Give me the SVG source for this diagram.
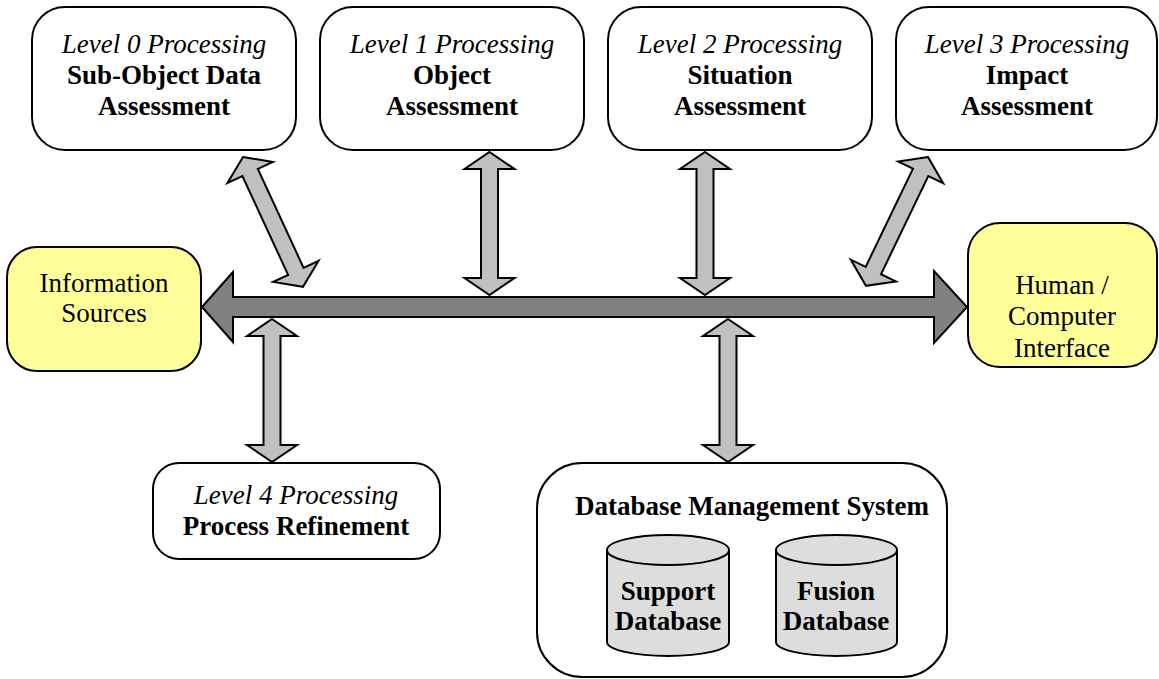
<svg xmlns="http://www.w3.org/2000/svg" width="1159" height="679" viewBox="0 0 1159 679">
<style>
.box{fill:#ffffff;stroke:#000;stroke-width:2}
.yel{fill:#ffff99;stroke:#000;stroke-width:2}
.arr{fill:#c0c0c0;stroke:#000;stroke-width:2;stroke-linejoin:miter}
.bus{fill:#808080;stroke:#000;stroke-width:2}
.cyl{fill:#dddddd;stroke:#000;stroke-width:2}
text{font-family:"Liberation Serif","Times New Roman",serif;font-size:27px;text-anchor:middle;fill:#000}
.it{font-style:italic}
.b{font-weight:bold}
</style>
<defs>
<polygon id="dv" points="0,0 25,17 8.5,17 8.5,126 25,126 0,143 -25,126 -8.5,126 -8.5,17 -25,17"/>
</defs>
<g id="connectors">
<polygon class="bus" points="202,307 233,272 233,297 934,297 934,271 967,307 934,343 934,317 233,317 233,342"/>
<use href="#dv" class="arr" transform="translate(489.5,152)"/>
<use href="#dv" class="arr" transform="translate(705,152)"/>
<use href="#dv" class="arr" transform="translate(272,319)"/>
<use href="#dv" class="arr" transform="translate(728,319)"/>
<use href="#dv" class="arr" transform="translate(243,157) rotate(-24.8)"/>
<use href="#dv" class="arr" transform="translate(928,157) rotate(25.7)"/>
</g>
<g id="level0">
<rect class="box" x="32" y="7" width="264" height="143" rx="33"/>
<text class="it" x="164" y="53">Level 0 Processing</text>
<text class="b" x="164" y="84">Sub-Object Data</text>
<text class="b" x="164" y="115">Assessment</text>
</g>
<g id="level1">
<rect class="box" x="320" y="7" width="264" height="143" rx="33"/>
<text class="it" x="452" y="53">Level 1 Processing</text>
<text class="b" x="452" y="84">Object</text>
<text class="b" x="452" y="115">Assessment</text>
</g>
<g id="level2">
<rect class="box" x="608" y="7" width="264" height="143" rx="33"/>
<text class="it" x="740" y="53">Level 2 Processing</text>
<text class="b" x="740" y="84">Situation</text>
<text class="b" x="740" y="115">Assessment</text>
</g>
<g id="level3">
<rect class="box" x="896" y="7" width="261" height="143" rx="33"/>
<text class="it" x="1027" y="53">Level 3 Processing</text>
<text class="b" x="1027" y="84">Impact</text>
<text class="b" x="1027" y="115">Assessment</text>
</g>
<g id="info-sources">
<rect class="yel" x="7" y="247" width="194" height="124" rx="30"/>
<text x="104" y="292">Information</text>
<text x="104" y="322">Sources</text>
</g>
<g id="hci">
<rect class="yel" x="968" y="223" width="189" height="144" rx="32"/>
<text x="1062" y="294">Human /</text>
<text x="1062" y="325">Computer</text>
<text x="1062" y="357">Interface</text>
</g>
<g id="level4">
<rect class="box" x="153" y="463" width="287" height="96" rx="26"/>
<text class="it" x="296" y="504">Level 4 Processing</text>
<text class="b" x="296" y="535">Process Refinement</text>
</g>
<g id="dbms">
<rect class="box" x="537" y="463" width="410" height="214" rx="45"/>
<text class="b" x="752" y="515">Database Management System</text>
<g id="support-db">
<path class="cyl" d="M607,550 V642 A61,14 0 0 0 729,642 V550 A61,15 0 0 0 607,550 Z"/>
<path fill="none" stroke="#000" stroke-width="2" d="M607,550 A61,15 0 0 0 729,550"/>
<text class="b" x="668" y="600">Support</text>
<text class="b" x="668" y="630">Database</text>
</g>
<g id="fusion-db">
<path class="cyl" d="M776,550 V642 A60.5,14 0 0 0 897,642 V550 A60.5,15 0 0 0 776,550 Z"/>
<path fill="none" stroke="#000" stroke-width="2" d="M776,550 A60.5,15 0 0 0 897,550"/>
<text class="b" x="836" y="600">Fusion</text>
<text class="b" x="836" y="630">Database</text>
</g>
</g>
</svg>
